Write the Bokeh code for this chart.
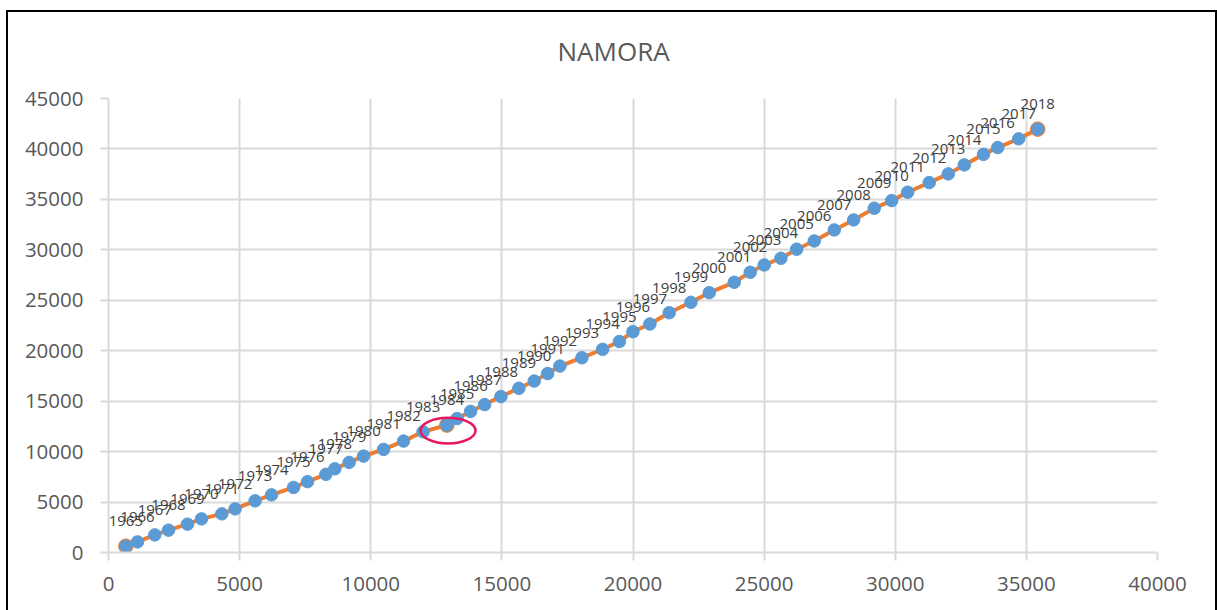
from bokeh.plotting import figure
from bokeh.models import Range1d, FixedTicker
from bokeh.core.properties import value
from bokeh.embed import file_html
from bokeh.resources import INLINE

title = "NAMORA"
years = list(range(1965, 2019))
x_cum = [660, 1106, 1766, 2288, 3013, 3547, 4321, 4829, 5591, 6217,
         7056, 7590, 8288, 8631, 9177, 9726, 10489, 11251, 11995, 12903,
         13292, 13807, 14341, 14963, 15649, 16233, 16744, 17213, 18052, 18841,
         19482, 19997, 20645, 21381, 22209, 22907, 23860, 24471, 25004, 25641,
         26240, 26911, 27674, 28414, 29200, 29863, 30474, 31297, 32022, 32632,
         33365, 33906, 34707, 35432]
y_cum = [625, 1052, 1746, 2212, 2807, 3333, 3829, 4325, 5119, 5714,
         6448, 7023, 7748, 8293, 8928, 9553, 10218, 11041, 11964, 12628,
         13273, 13987, 14662, 15455, 16279, 16993, 17737, 18481, 19304, 20138,
         20911, 21884, 22647, 23768, 24800, 25752, 26784, 27776, 28500, 29165,
         30058, 30881, 31972, 32964, 34125, 34879, 35712, 36664, 37527, 38420,
         39462, 40137, 41000, 41962]
x_ticks = [0, 5000, 10000, 15000, 20000, 25000, 30000, 35000, 40000]
y_ticks = [0, 5000, 10000, 15000, 20000, 25000, 30000, 35000, 40000, 45000]
orange_years = [1965, 1984, 2018]
highlight_year = 1984

FONT = "Open Sans"
GRID = "#d9d9d9"
BLUE = "#5B9BD5"
ORANGE = "#ED7D31"

p = figure(width=1211, height=610, output_backend="svg", toolbar_location=None,
           x_range=Range1d(0, 40000), y_range=Range1d(0, 45000),
           min_border_left=102, min_border_right=60, min_border_top=98,
           min_border_bottom=58, title=title)
# chart-area frame: black lines at top, left and right, drawn behind the canvas
p.styles = {
    "margin-left": "6px",
    "background-color": "white",
    "background-image": ("linear-gradient(#000,#000), linear-gradient(#000,#000), "
                         "linear-gradient(#000,#000)"),
    "background-size": "100% 2px, 2px 100%, 2px 100%",
    "background-position": "0 10px, left 0 top 10px, right 0 top 10px",
    "background-repeat": "no-repeat",
}
p.outline_line_color = None
p.background_fill_color = "white"
p.border_fill_color = None

p.title.align = "left"
p.title.offset = 449
p.title.text_font = FONT
p.title.text_font_size = "26px"
p.title.text_font_style = "normal"
p.title.text_color = "#595959"
p.title.standoff = 60

for ax, ticks in ((p.xaxis[0], x_ticks), (p.yaxis[0], y_ticks)):
    ax.ticker = FixedTicker(ticks=ticks)
    ax.axis_line_color = GRID
    ax.axis_line_width = 2
    ax.major_tick_line_color = GRID
    ax.major_tick_line_width = 2
    ax.major_tick_out = 8
    ax.major_tick_in = 0
    ax.minor_tick_line_color = None
    ax.major_label_text_font = FONT
    ax.major_label_text_font_size = "20.5px"
    ax.major_label_text_color = "#595959"
p.xaxis.major_label_standoff = 16
p.yaxis.major_label_standoff = 17

for g, ticks in ((p.xgrid[0], x_ticks), (p.ygrid[0], y_ticks)):
    g.ticker = FixedTicker(ticks=ticks)
    g.grid_line_color = GRID
    g.grid_line_width = 2

# connecting line
p.line(x_cum, y_cum, line_color=ORANGE, line_width=4)
ox = [x_cum[years.index(yr)] for yr in orange_years]
oy = [y_cum[years.index(yr)] for yr in orange_years]
p.scatter(ox, oy, size=14.5, fill_color=ORANGE, line_color=ORANGE)
p.scatter(x_cum, y_cum, size=12.5, fill_color=BLUE, line_color=BLUE)

p.text(x_cum, y_cum, text=[str(y) for y in years], text_align="center",
       text_baseline="middle", y_offset=-25, text_font=value(FONT),
       text_font_size="15px", text_color="#404040")

hi = years.index(highlight_year)
p.ellipse(x=[x_cum[hi] + 45], y=[y_cum[hi] - 545], width=[55], height=[25.6],
          width_units="screen", height_units="screen", fill_color=None,
          line_color="#E8175D", line_width=2.5)

open("out.html", "w").write(file_html(p, INLINE))
